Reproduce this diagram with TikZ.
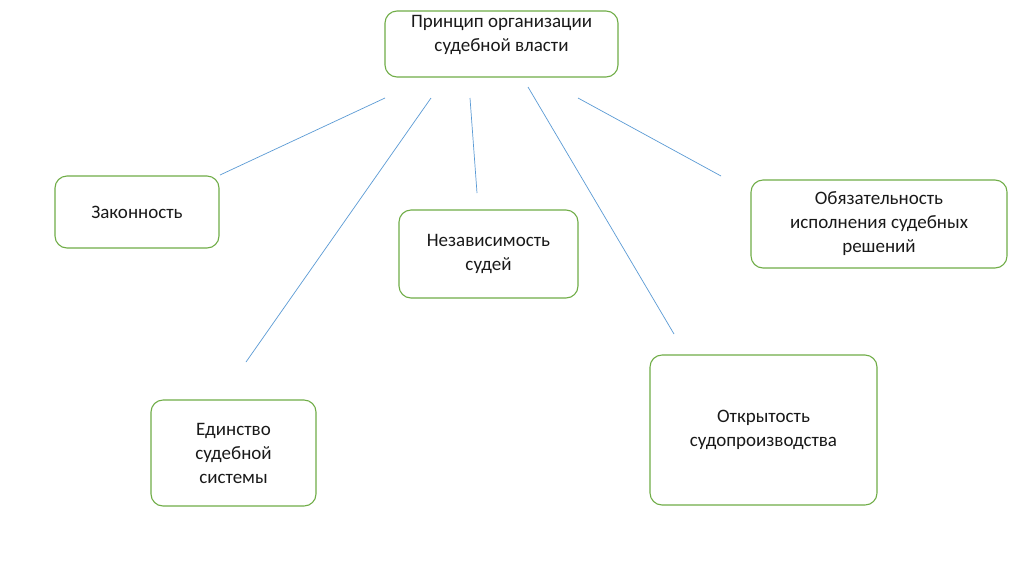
\documentclass[tikz,border=0pt]{standalone}
\usepackage{fontspec}
\setmainfont{Carlito}
\definecolor{boxgreen}{RGB}{112,173,71}
\definecolor{lineblue}{RGB}{91,155,213}
\begin{document}
\begin{tikzpicture}[x=1pt,y=-1pt,
  box/.style={draw=boxgreen, line width=1.1pt, rounded corners=12pt, fill=white, inner sep=0pt},
  txt/.style={align=center, font=\fontsize{19}{24}\selectfont, text=black!90, inner sep=0pt},
  conn/.style={draw=lineblue, line width=0.7pt}]
\useasboundingbox (0,0) rectangle (1024,574);
\fill[white] (0,0) rectangle (1024,574);

\node[box, minimum width=233pt, minimum height=66pt] (top) at (501.5,44) {};
\node[txt] (toptext) at (501.5,35) {Принцип организации\\судебной власти};

\node[box, txt, minimum width=164pt, minimum height=72pt] (zak) at (137,212) {Законность};
\node[box, txt, minimum width=179pt, minimum height=88pt] (nez) at (488.5,254) {Независимость\\судей};
\node[box, txt, minimum width=256pt, minimum height=88pt] (obz) at (879,224) {Обязательность\\исполнения судебных\\решений};
\node[box, txt, minimum width=165pt, minimum height=106pt] (edi) at (233.5,453) {Единство\\судебной\\системы};
\node[box, txt, minimum width=227pt, minimum height=150pt] (otk) at (763.5,430) {Открытость\\судопроизводства};

\coordinate (s1) at (385,98);  \coordinate (e1) at (220,175);
\coordinate (s2) at (431,98);  \coordinate (e2) at (246,362);
\coordinate (s3) at (470,98);  \coordinate (e3) at (477,193);
\coordinate (s4) at (528,87);  \coordinate (e4) at (674,334);
\coordinate (s5) at (578,98);  \coordinate (e5) at (721,176);
\draw[conn] (s1) -- (e1);
\draw[conn] (s2) -- (e2);
\draw[conn] (s3) -- (e3);
\draw[conn] (s4) -- (e4);
\draw[conn] (s5) -- (e5);
\end{tikzpicture}
\end{document}
